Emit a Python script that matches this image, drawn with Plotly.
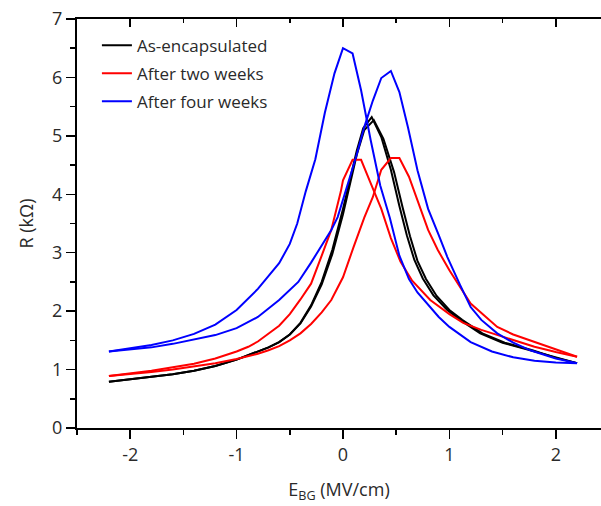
import plotly.graph_objects as go

# ---- data (E_BG in MV/cm, R in kOhm) ----
black_a_x = [-2.2, -2.0, -1.8, -1.6, -1.4, -1.2, -1.0, -0.86, -0.7, -0.6, -0.5, -0.4, -0.3, -0.2, -0.1, 0.0, 0.07, 0.13, 0.19, 0.27, 0.36, 0.45, 0.53, 0.6, 0.67, 0.75, 0.85, 0.98, 1.1, 1.29, 1.5, 1.76, 2.0, 2.2]
black_a_y = [0.79, 0.83, 0.87, 0.92, 0.98, 1.06, 1.17, 1.27, 1.38, 1.47, 1.6, 1.8, 2.1, 2.5, 3.05, 3.75, 4.3, 4.75, 5.13, 5.32, 4.98, 4.42, 3.8, 3.3, 2.88, 2.56, 2.27, 2.02, 1.85, 1.62, 1.46, 1.33, 1.2, 1.11]
black_b_x = [-2.2, -2.0, -1.8, -1.6, -1.4, -1.2, -1.0, -0.86, -0.7, -0.6, -0.5, -0.4, -0.3, -0.2, -0.1, 0.0, 0.07, 0.13, 0.2, 0.29, 0.38, 0.48, 0.56, 0.63, 0.7, 0.78, 0.88, 1.0, 1.12, 1.31, 1.52, 1.78, 2.0, 2.2]
black_b_y = [0.79, 0.83, 0.87, 0.92, 0.98, 1.06, 1.17, 1.27, 1.38, 1.47, 1.6, 1.79, 2.08, 2.46, 2.98, 3.66, 4.22, 4.68, 5.1, 5.27, 4.95, 4.38, 3.78, 3.28, 2.86, 2.55, 2.26, 2.02, 1.85, 1.62, 1.46, 1.33, 1.2, 1.11]

red_a_x = [-2.2, -2.0, -1.8, -1.6, -1.4, -1.2, -1.0, -0.89, -0.8, -0.6, -0.5, -0.4, -0.3, -0.2, -0.11, -0.02, 0.0, 0.09, 0.17, 0.26, 0.36, 0.45, 0.54, 0.65, 0.82, 1.0, 1.13, 1.3, 1.6, 1.8, 2.0, 2.2]
red_a_y = [0.89, 0.93, 0.98, 1.04, 1.1, 1.19, 1.31, 1.39, 1.48, 1.75, 1.95, 2.2, 2.47, 2.95, 3.39, 4.05, 4.24, 4.59, 4.59, 4.19, 3.75, 3.25, 2.85, 2.52, 2.19, 1.95, 1.8, 1.68, 1.5, 1.39, 1.3, 1.22]
red_b_x = [-2.2, -2.0, -1.8, -1.6, -1.4, -1.2, -1.0, -0.8, -0.7, -0.6, -0.5, -0.4, -0.3, -0.2, -0.11, 0.0, 0.1, 0.2, 0.28, 0.36, 0.45, 0.53, 0.62, 0.7, 0.8, 0.89, 1.0, 1.2, 1.45, 1.6, 1.76, 2.0, 2.2]
red_b_y = [0.89, 0.92, 0.96, 1.0, 1.05, 1.11, 1.18, 1.27, 1.33, 1.4, 1.5, 1.62, 1.78, 1.98, 2.19, 2.58, 3.1, 3.6, 3.95, 4.42, 4.62, 4.62, 4.3, 3.9, 3.39, 3.05, 2.7, 2.13, 1.73, 1.6, 1.5, 1.35, 1.22]

blue_a_x = [-2.2, -2.0, -1.8, -1.6, -1.4, -1.2, -1.0, -0.8, -0.6, -0.5, -0.43, -0.35, -0.26, -0.17, -0.08, 0.0, 0.09, 0.17, 0.26, 0.35, 0.44, 0.53, 0.62, 0.7, 0.8, 0.9, 1.0, 1.2, 1.4, 1.6, 1.8, 2.0, 2.2]
blue_a_y = [1.31, 1.36, 1.42, 1.5, 1.61, 1.77, 2.02, 2.38, 2.82, 3.15, 3.5, 4.05, 4.6, 5.4, 6.07, 6.5, 6.41, 5.78, 4.93, 4.15, 3.6, 2.95, 2.55, 2.32, 2.1, 1.9, 1.73, 1.47, 1.31, 1.21, 1.15, 1.12, 1.11]
blue_b_x = [-2.2, -2.0, -1.8, -1.6, -1.4, -1.2, -1.0, -0.8, -0.6, -0.42, -0.3, -0.21, -0.11, -0.05, 0.05, 0.12, 0.2, 0.28, 0.36, 0.45, 0.53, 0.61, 0.7, 0.8, 0.9, 0.98, 1.1, 1.2, 1.3, 1.45, 1.6, 1.76, 2.0, 2.2]
blue_b_y = [1.31, 1.34, 1.38, 1.44, 1.51, 1.59, 1.71, 1.9, 2.19, 2.5, 2.83, 3.1, 3.39, 3.61, 4.19, 4.62, 5.15, 5.6, 5.99, 6.11, 5.75, 5.15, 4.41, 3.75, 3.3, 2.93, 2.45, 2.07, 1.85, 1.62, 1.46, 1.33, 1.19, 1.11]

series = [
    ("As-encapsulated", "#000000", black_a_x, black_a_y, black_b_x, black_b_y),
    ("After two weeks", "#ff0000", red_a_x, red_a_y, red_b_x, red_b_y),
    ("After four weeks", "#0000ff", blue_a_x, blue_a_y, blue_b_x, blue_b_y),
]

x_ticks = [-2, -1, 0, 1, 2]
x_tick_labels = ["-2", "-1", "0", "1", "2"]
y_ticks = [0, 1, 2, 3, 4, 5, 6, 7]

fig = go.Figure()
for name, color, xa, ya, xb, yb in series:
    fig.add_trace(go.Scatter(x=xa, y=ya, mode="lines", name=name, legendgroup=name,
                             line=dict(color=color, width=2)))
    fig.add_trace(go.Scatter(x=xb, y=yb, mode="lines", name=name, legendgroup=name,
                             showlegend=False, line=dict(color=color, width=2)))
# invisible trace to activate the top axis
fig.add_trace(go.Scatter(x=[0], y=[0], xaxis="x2", mode="markers",
                         marker=dict(opacity=0), showlegend=False, hoverinfo="skip"))

font_family = "Open Sans, Noto Sans, sans-serif"
xr = [-2.5, 2.425]
axis_line = dict(showline=True, linecolor="#000000", linewidth=2)
fig.update_layout(
    width=601, height=506,
    margin=dict(l=77, r=0, t=19, b=78, autoexpand=False),
    paper_bgcolor="white", plot_bgcolor="white",
    font=dict(family=font_family, size=18, color="#2a2a2a"),
    showlegend=True,
    legend=dict(x=0.038, y=0.979, xanchor="left", yanchor="top",
                bgcolor="rgba(0,0,0,0)", font=dict(size=17, color="#2a2a2a"),
                tracegroupgap=3, traceorder="grouped"),
    xaxis=dict(range=xr, tickvals=x_ticks, ticktext=x_tick_labels, automargin=True, layer="above traces",
               showgrid=False, zeroline=False, **axis_line,
               ticks="outside", ticklen=9, tickwidth=1.5, tickcolor="black",
               minor=dict(dtick=0.5, tick0=0, ticks="outside", ticklen=5, tickwidth=1.5, tickcolor="black"),
               title=dict(text="E<sub>BG</sub> (MV/cm)", font=dict(size=18), standoff=19)),
    xaxis2=dict(range=xr, overlaying="x", side="top", anchor="y", showticklabels=False, tickvals=x_ticks,
                automargin=False, showgrid=False, zeroline=False, **axis_line,
                ticks="inside", ticklen=8, tickwidth=1.5, tickcolor="black",
                minor=dict(dtick=0.5, tick0=0, ticks="inside", ticklen=4, tickwidth=1.5, tickcolor="black")),
    yaxis=dict(range=[0, 7], tickvals=y_ticks, showgrid=False, zeroline=False, automargin=True,
               **axis_line,
               ticks="outside", ticklen=9, tickwidth=1.5, tickcolor="black",
               minor=dict(dtick=0.5, tick0=0, ticks="outside", ticklen=5, tickwidth=1.5, tickcolor="black"),
               title=dict(text="R (kΩ)", font=dict(size=18), standoff=14)),
)

fig.write_html("out.html", config={"displayModeBar": False, "staticPlot": True},
               post_script="document.body.style.margin='0';document.body.style.overflow='hidden';")
